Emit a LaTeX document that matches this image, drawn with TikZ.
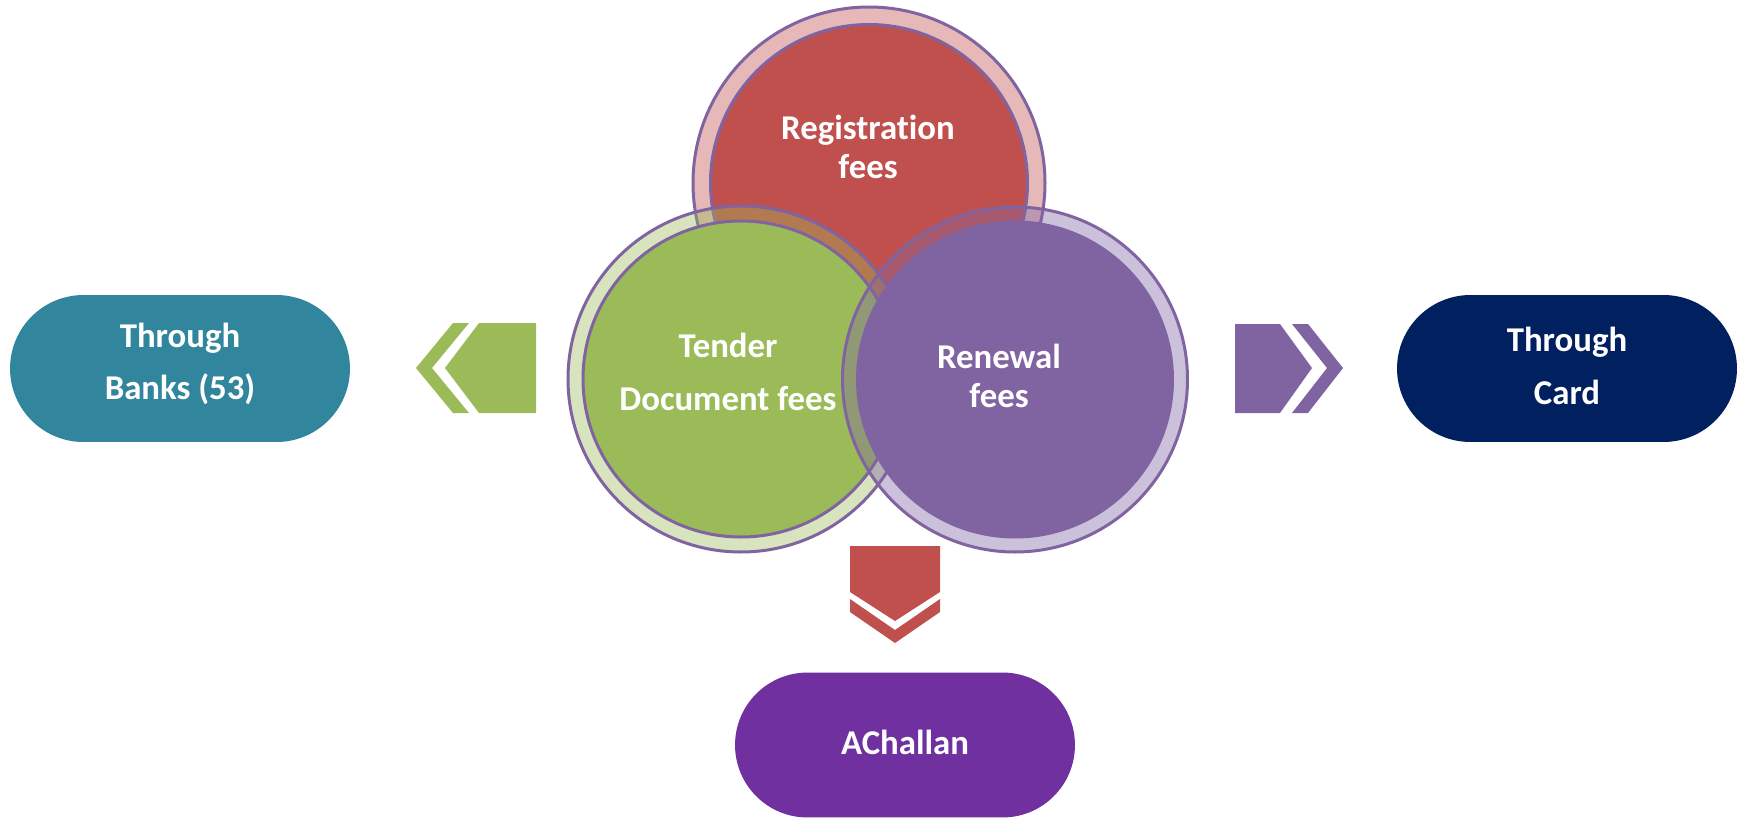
\documentclass[tikz,border=0pt]{standalone}
\usepackage{fontspec}
\setmainfont{Carlito}[Ligatures={NoCommon}]
\usetikzlibrary{positioning,shapes.misc}

\definecolor{redfee}{HTML}{C0504D}
\definecolor{greenfee}{HTML}{9BBB59}
\definecolor{purplefee}{HTML}{8064A2}
\definecolor{bankteal}{HTML}{31859C}
\definecolor{cardnavy}{HTML}{002060}
\definecolor{challanviolet}{HTML}{7030A0}

\tikzset{
  ringline/.style={draw=purplefee, line width=0.06cm},
  feetext/.style={text=white, font=\bfseries\fontsize{19.8}{22.5}\selectfont, align=center, inner sep=0pt},
  widetext/.style={feetext, font=\bfseries\fontsize{19.8}{30}\selectfont},
  paybox/.style={rounded rectangle, minimum width=6.8cm, minimum height=2.94cm, inner sep=0pt},
}

\begin{document}
\begin{tikzpicture}[x=0.02cm, y=-0.02cm]
            \useasboundingbox (0,0) rectangle (1739,818);

            \coordinate (Reg) at (869,183);
            \coordinate (Ten) at (741,379);
            \coordinate (Ren) at (1015,379.5);

            % three overlapping fee circles
            \draw[ringline, fill=redfee, fill opacity=0.4] (Reg) circle[radius=176];
            \draw[ringline, fill=redfee] (Reg) circle[radius=158.5];
            \draw[ringline, fill=greenfee, fill opacity=0.4] (Ten) circle[radius=173];
            \draw[ringline, fill=greenfee] (Ten) circle[radius=158];
            \draw[ringline, fill=purplefee, fill opacity=0.4] (Ren) circle[radius=172.5];
            \draw[ringline, fill=purplefee] (Ren) circle[radius=157.5];

            \node[feetext] (regtext) at (868,147) {Registration\\fees};
            \node[widetext] (tentext) at (728,372) {Tender\\Document fees};
            \node[feetext] (rentext) at (999,376) {Renewal\\fees};

            % payment modes
            \node[paybox, fill=bankteal] (bank) at (180,368.5) {};
            \node[paybox, fill=cardnavy] (card) at (1567,368.5) {};
            \node[paybox, fill=challanviolet, minimum height=2.9cm] (challan) at (905,745) {};
            \node[widetext] (banktext) at ([yshift=0.09cm]bank.center) {Through\\Banks (53)};
            \node[widetext] (cardtext) at ([yshift=0.045cm]card.center) {Through\\Card};
            \node[widetext] (challantext) at ([yshift=0.045cm]challan.center) {AChallan};

            % chevron arrows
            \fill[greenfee] (536,323) -- (479,323) -- (445,368) -- (479,413) -- (536,413) -- cycle;
            \fill[greenfee] (453,323) -- (469,323) -- (432,368) -- (469,413) -- (453,413) -- (416,368) -- cycle;
            \fill[purplefee] (1235,324) -- (1280,324) -- (1312,368) -- (1280,413) -- (1235,413) -- cycle;
            \fill[purplefee] (1292,324) -- (1308,324) -- (1343,368) -- (1308,413) -- (1292,413) -- (1327,368) -- cycle;
            \fill[redfee] (850,546) -- (940,546) -- (940,592) -- (895,621) -- (850,592) -- cycle;
            \fill[redfee] (850,599) -- (895,630) -- (940,599) -- (940,612) -- (895,643) -- (850,612) -- cycle;
        \end{tikzpicture}
\end{document}
